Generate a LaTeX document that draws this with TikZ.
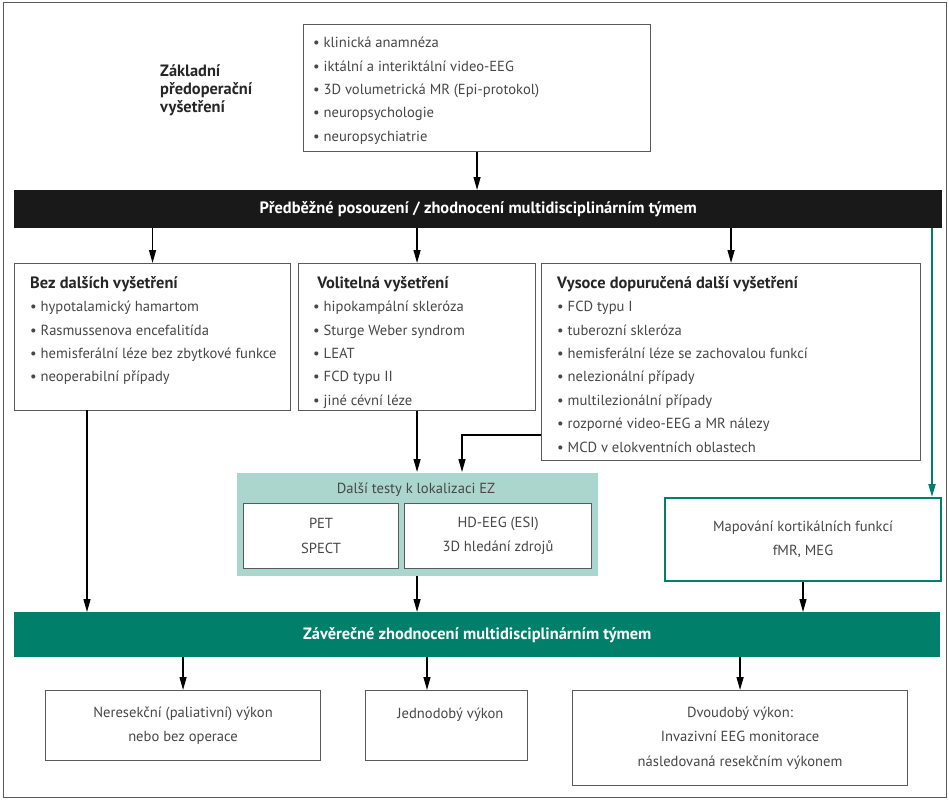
\documentclass[tikz,border=0pt]{standalone}
\usepackage{fontspec}
\setmainfont{PT Sans}
\usetikzlibrary{arrows.meta,positioning}
\definecolor{zelena}{HTML}{00806A}
\definecolor{tyrkys}{HTML}{AAD6CD}
\definecolor{seda}{HTML}{5A5A5A}
\definecolor{textseda}{HTML}{474747}
\tikzstyle{ramecek}=[
        draw = seda,
        line width = 1.1pt,
        fill = white,
        anchor = north west,
        inner sep = 0pt,
        align = center,
        text = textseda,
        font = \fontsize{14.6}{24.3}\selectfont
    ]
\tikzstyle{seznam}=[
        anchor = north west,
        inner sep = 0pt,
        align = left,
        text = textseda,
        font = \fontsize{14.6}{23.4}\selectfont
    ]
\tikzstyle{pruh}=[
        anchor = north west,
        inner sep = 0pt,
        text = white,
        font = \bfseries\fontsize{16.4}{18}\selectfont
    ]
\tikzstyle{sipka}=[
        -{Triangle[length=13pt,width=7pt]},
        line width = 1.3pt
    ]

\begin{document}
\begin{tikzpicture}[x=1pt, y=-1pt]
        \useasboundingbox (0,0) rectangle (949,800);
        \draw[seda, line width=1pt] (3,3) rectangle (946,797);

        % zakladni vysetreni
        \node[anchor=north west, inner sep=0pt, align=left, text=black!85, font=\bfseries\fontsize{16.4}{18}\selectfont] (nadpis) at (160,64) {Základní\\předoperační\\vyšetření};
        \node[ramecek, minimum width=347pt, minimum height=127pt] (zaklad) at (303,24) {};
        \node[seznam] (zakladText) at (313,37) {• klinická anamnéza\\• iktální a interiktální video-EEG\\• 3D volumetrická MR (Epi-protokol)\\• neuropsychologie\\• neuropsychiatrie};

        \node[pruh, fill=black!90, minimum width=928pt, minimum height=38pt] (predbezne) at (14,190) {Předběžné posouzení / zhodnocení multidisciplinárním týmem};

        % tri skupiny
        \node[ramecek, minimum width=276pt, minimum height=147pt] (bez) at (14,263) {};
        \node[seznam] (bezText) at (30,276) {\textcolor{black!85}{\bfseries\fontsize{16.4}{18}\selectfont Bez dalších vyšetření}\\• hypotalamický hamartom\\• Rasmussenova encefalitída\\• hemisferální léze bez zbytkové funkce\\• neoperabilní případy};
        \node[ramecek, minimum width=237pt, minimum height=147pt] (volitelna) at (298,263) {};
        \node[seznam] (volitelnaText) at (313,276) {\textcolor{black!85}{\bfseries\fontsize{16.4}{18}\selectfont\ Volitelná vyšetření}\\• hipokampální skleróza\\• Sturge Weber syndrom\\• LEAT\\• FCD typu II\\• jiné cévní léze};
        \node[ramecek, minimum width=379pt, minimum height=197pt] (vysoce) at (541,263) {};
        \node[seznam] (vysoceText) at (557,276) {\textcolor{black!85}{\bfseries\fontsize{16.4}{18}\selectfont Vysoce dopuručená další vyšetření}\\• FCD typu I\\• tuberozní skleróza\\• hemisferální léze se zachovalou funkcí\\• nelezionální případy\\• multilezionální případy\\• rozporné video-EEG a MR nálezy\\• MCD v elokventních oblastech};

        % dalsi testy
        \node[ramecek, draw=none, fill=tyrkys, minimum width=361pt, minimum height=103pt] (dalsi) at (236,472) {};
        \node[seznam, anchor=center, align=center] (dalsiText) at (416,490) {Další testy k lokalizaci EZ};
        \node[ramecek, minimum width=155pt, minimum height=65pt] (pet) at (243,503) {PET\\SPECT};
        \node[ramecek, minimum width=187pt, minimum height=65pt] (hdeeg) at (404,503) {HD-EEG (ESI)\\3D hledání zdrojů};
        \node[ramecek, draw=zelena, line width=2pt, minimum width=276pt, minimum height=83pt] (mapovani) at (664,497) {Mapování kortikálních funkcí\\fMR, MEG};

        \node[pruh, fill=zelena, minimum width=926pt, minimum height=45pt] (zaverecne) at (14,612) {Závěrečné zhodnocení multidisciplinárním týmem};

        % vysledky
        \node[ramecek, minimum width=275pt, minimum height=70pt] (neresekcni) at (45,690) {Neresekční (paliativní) výkon\\nebo bez operace};
        \node[ramecek, minimum width=162pt, minimum height=70pt] (jednodoby) at (365,690) {\ \ Jednodobý výkon\\\mbox{}};
        \node[ramecek, minimum width=335pt, minimum height=95pt] (dvoudoby) at (572,690) {Dvoudobý výkon:\\Invazivní EEG monitorace\\následovaná resekčním výkonem};

        \coordinate (odbocka) at (932,228);
        \coordinate (bezVystup) at (87,410);
        \coordinate (ohyb) at (462,435);
        \coordinate (jednoVstup) at (427,657);

        \draw[sipka] (zaklad) -- (zaklad |- predbezne.north);
        \draw[sipka] (bez.north |- predbezne.south) -- (bez.north);
        \draw[sipka] (volitelna.north |- predbezne.south) -- (volitelna.north);
        \draw[sipka] (vysoce.north |- predbezne.south) -- (vysoce.north);
        \draw[sipka, zelena, line width=2pt] (odbocka) -- (odbocka |- mapovani.north);
        \draw[sipka] (bezVystup) -- (bezVystup |- zaverecne.north);
        \draw[sipka] (volitelna.south) -- (volitelna.south |- dalsi.north);
        \draw[sipka] (ohyb -| vysoce.west) -- (ohyb) -- (ohyb |- dalsi.north);
        \draw[sipka] (dalsi.south) -- (dalsi.south |- zaverecne.north);
        \draw[sipka] (mapovani.south) -- (mapovani.south |- zaverecne.north);
        \draw[sipka] (neresekcni.north |- zaverecne.south) -- (neresekcni.north);
        \draw[sipka] (jednoVstup) -- (jednoVstup |- jednodoby.north);
        \draw[sipka] (dvoudoby.north |- zaverecne.south) -- (dvoudoby.north);

    \end{tikzpicture}
\end{document}
